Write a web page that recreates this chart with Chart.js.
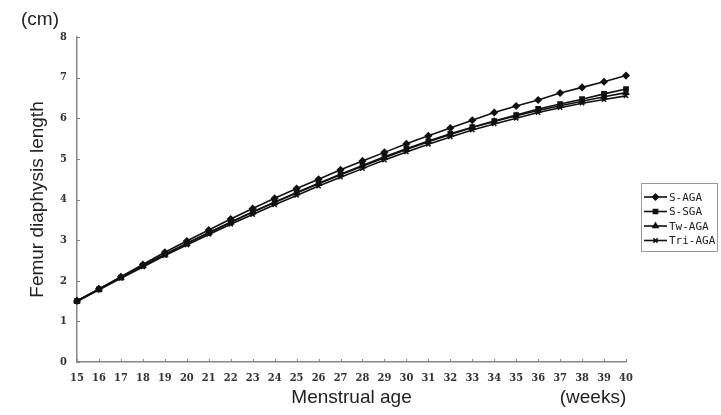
<!DOCTYPE html>
<html>
<head>
<meta charset="utf-8">
<script src="https://cdn.jsdelivr.net/npm/chart.js@4"></script>
<style>
  html, body { margin: 0; padding: 0; background: #fff; }
  #wrap { width: 721px; height: 415px; }
</style>
</head>
<body>
<div id="wrap"><canvas id="chart" width="721" height="415"></canvas></div>
<script>
const weeks = [15, 16, 17, 18, 19, 20, 21, 22, 23, 24, 25, 26, 27, 28, 29, 30, 31, 32, 33, 34, 35, 36, 37, 38, 39, 40];

const sAGA  = [1.50, 1.80, 2.10, 2.40, 2.70, 2.98, 3.25, 3.52, 3.78, 4.03, 4.27, 4.50, 4.73, 4.95, 5.16, 5.37, 5.57, 5.76, 5.95, 6.14, 6.30, 6.45, 6.62, 6.76, 6.90, 7.05];
const sSGA  = [1.50, 1.79, 2.08, 2.37, 2.65, 2.92, 3.18, 3.44, 3.69, 3.93, 4.17, 4.40, 4.62, 4.84, 5.05, 5.25, 5.44, 5.62, 5.78, 5.93, 6.08, 6.23, 6.35, 6.47, 6.60, 6.72];
const twAGA = [1.50, 1.79, 2.08, 2.37, 2.65, 2.92, 3.18, 3.44, 3.69, 3.93, 4.16, 4.39, 4.61, 4.82, 5.03, 5.23, 5.42, 5.60, 5.77, 5.92, 6.06, 6.19, 6.31, 6.42, 6.53, 6.63];
const triAGA = [1.49, 1.78, 2.06, 2.34, 2.62, 2.88, 3.14, 3.39, 3.63, 3.87, 4.10, 4.33, 4.55, 4.76, 4.97, 5.17, 5.36, 5.54, 5.71, 5.86, 6.00, 6.14, 6.26, 6.37, 6.46, 6.55];

const seriesNames = ['S-AGA', 'S-SGA', 'Tw-AGA', 'Tri-AGA'];
const markers = ['rectRot', 'rect', 'triangle', 'crossRot'];

const tickFont = { family: 'DejaVu Serif Condensed', size: 11, weight: 'bold' };

function makeSet(i, values) {
  return {
    label: seriesNames[i],
    data: values,
    borderColor: '#111',
    backgroundColor: '#111',
    borderWidth: 1.6,
    pointStyle: markers[i],
    pointRadius: 3,
    pointBorderWidth: 1.5,
    tension: 0
  };
}

// inward tick marks, extra unit labels and the boxed legend
const extras = {
  id: 'extras',
  afterDraw(chart) {
    const ctx = chart.ctx;
    const xs = chart.scales.x;
    const ys = chart.scales.y;
    const area = chart.chartArea;
    ctx.save();
    ctx.strokeStyle = '#888';
    ctx.lineWidth = 1;
    ys.ticks.forEach(t => {
      const y = Math.round(ys.getPixelForValue(t.value)) + 0.5;
      ctx.beginPath();
      ctx.moveTo(area.left, y);
      ctx.lineTo(area.left + 3, y);
      ctx.stroke();
    });
    xs.ticks.forEach((t, i) => {
      const x = Math.round(xs.getPixelForValue(i)) + 0.5;
      ctx.beginPath();
      ctx.moveTo(x, area.bottom);
      ctx.lineTo(x, area.bottom - 3);
      ctx.stroke();
    });

    ctx.fillStyle = '#222';
    ctx.font = '19px "Liberation Sans", Arial, sans-serif';
    ctx.textAlign = 'center';
    ctx.textBaseline = 'middle';
    ctx.fillText('(cm)', 40, 20);
    ctx.fillText('(weeks)', 593, 398);

    // legend
    ctx.strokeStyle = '#999';
    ctx.lineWidth = 1;
    ctx.strokeRect(641.5, 183.5, 76, 68);
    ctx.font = '11px "DejaVu Sans Mono", monospace';
    ctx.textAlign = 'left';
    chart.data.datasets.forEach((ds, i) => {
      const y = 197 + i * 14.5;
      ctx.strokeStyle = '#111';
      ctx.lineWidth = 1.6;
      ctx.beginPath();
      ctx.moveTo(644, y);
      ctx.lineTo(667, y);
      ctx.stroke();
      ctx.fillStyle = '#111';
      ctx.lineWidth = 1.5;
      Chart.helpers.drawPoint(ctx, { pointStyle: ds.pointStyle, radius: 3, borderWidth: 1.5 }, 655.5, y);
      ctx.fillStyle = '#222';
      ctx.fillText(ds.label, 669, y + 1);
    });
    ctx.restore();
  }
};

const config = {
  type: 'line',
  data: {
    labels: weeks,
    datasets: [makeSet(0, sAGA), makeSet(1, sSGA), makeSet(2, twAGA), makeSet(3, triAGA)]
  },
  options: {
    responsive: false,
    animation: false,
    layout: { padding: { left: 0, right: 95, top: 37, bottom: 0 } },
    plugins: {
      legend: { display: false },
      tooltip: { enabled: false }
    },
    scales: {
      x: {
        type: 'category',
        offset: false,
        grid: { display: false, drawTicks: false },
        border: { display: true, color: '#888', width: 1.5 },
        ticks: { color: '#333', font: tickFont, padding: 10, maxRotation: 0, autoSkip: false },
        title: {
          display: true,
          text: 'Menstrual age',
          color: '#222',
          font: { family: 'Liberation Sans', size: 19 },
          padding: { top: 0, bottom: 6 }
        },
        afterFit(scale) { scale.height = 53; }
      },
      y: {
        min: 0,
        max: 8,
        grid: { display: false, drawTicks: false },
        border: { display: true, color: '#888', width: 1.5 },
        ticks: { stepSize: 1, color: '#333', font: tickFont, padding: 10 },
        title: {
          display: true,
          text: 'Femur diaphysis length',
          color: '#222',
          font: { family: 'Liberation Sans', size: 19 },
          padding: { top: 26, bottom: 0 }
        },
        afterFit(scale) { scale.width = 77; }
      }
    }
  },
  plugins: [extras]
};

const myChart = new Chart(document.getElementById('chart'), config);
</script>
</body>
</html>
